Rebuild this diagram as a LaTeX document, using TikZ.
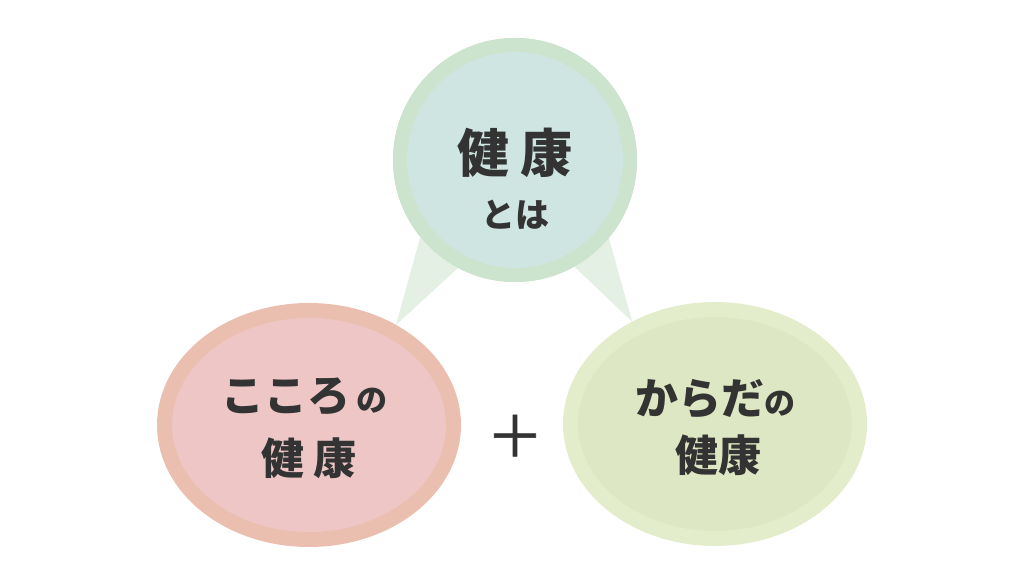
\documentclass[tikz,border=0pt]{standalone}
\usepackage{fontspec}
\setmainfont{Noto Sans CJK JP}
\newfontfamily\plusfont[FakeBold=1.2]{Noto Sans CJK JP}
\usepackage{tikz}
\usetikzlibrary{shapes.geometric, positioning, calc}
\definecolor{ink}{HTML}{333333}
\definecolor{topring}{HTML}{CCE3CD}
\definecolor{topfill}{HTML}{CFE5E2}
\definecolor{kokororing}{HTML}{EBBFB0}
\definecolor{kokorofill}{HTML}{EEC6C6}
\definecolor{karadaring}{HTML}{E4EDCB}
\definecolor{karadafill}{HTML}{DDE7C3}
\definecolor{wedgegreen}{HTML}{E4F0E3}
\tikzstyle{topcircle} = [circle, minimum size=230pt, line width=14pt, draw=topring, fill=topfill]
\tikzstyle{kokoro} = [ellipse, minimum width=289pt, minimum height=229pt, line width=15pt, draw=kokororing, fill=kokorofill]
\tikzstyle{karada} = [ellipse, minimum width=289pt, minimum height=229pt, line width=15pt, draw=karadaring, fill=karadafill]
\tikzstyle{wedge} = [fill=wedgegreen, draw=none]
\tikzstyle{bigtext} = [font=\bfseries\fontsize{52}{60}\selectfont, text=ink, inner sep=0pt]
\tikzstyle{midtext} = [font=\bfseries\fontsize{43}{48}\selectfont, text=ink, inner sep=0pt]
\tikzstyle{smalltext} = [font=\bfseries\fontsize{34}{40}\selectfont, text=ink, inner sep=0pt]

\begin{document}
\begin{tikzpicture}[x=1pt, y=1pt, on grid]
\useasboundingbox (0,0) rectangle (1024,580);

% Circles
\node (top) [topcircle] at (515,420) {};
\node (mind) [kokoro, below left=265pt and 206pt of top] {};
\node (body) [karada, below right=264pt and 200pt of top] {};

% Wedges
\fill [wedge] (mind.49) -- ($(top)+(-84,-38)$) -- ($(top)+(-20,-74)$) -- cycle;
\fill [wedge] (body.129) -- ($(top)+(25,-74)$) -- ($(top)+(83,-39)$) -- cycle;
\node [topcircle] at (top) {};

% Texts
\node (toptitle) [bigtext, above=7pt of top] {健 康};
\node (topsub) [smalltext, below=55pt of top] {とは};
\node (mindtitle) [midtext, above=28pt of mind, xshift=-5pt] {こころ\hspace{6pt}{\fontsize{31}{40}\selectfont の}};
\node (mindsub) [midtext, below=33pt of mind] {健 康};
\node (bodytitle) [midtext, above=25pt of body] {からだ{\fontsize{31}{40}\selectfont の}};
\node (bodysub) [midtext, below=31pt of body, xshift=3pt] {健康};

% Plus
\node (plus) [font=\plusfont\fontsize{57}{60}\selectfont, text=ink, below=276pt of top] {＋};

\end{tikzpicture}
\end{document}
